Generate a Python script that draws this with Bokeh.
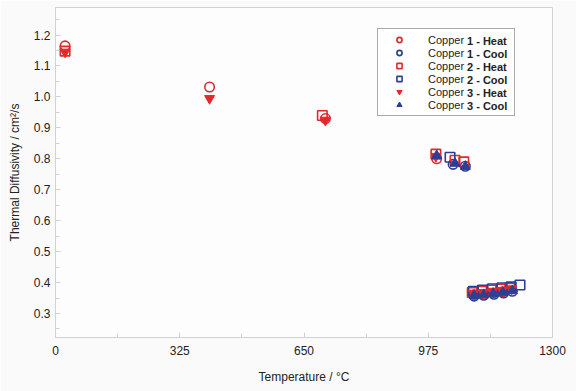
from bokeh.plotting import figure
from bokeh.models import Range1d, FixedTicker, Legend, LegendItem
from bokeh.embed import file_html
from bokeh.resources import INLINE

# ---- data ----
heat1_x = [25, 403, 706, 997, 1095, 1120, 1145, 1170]
heat1_y = [1.165, 1.032, 0.930, 0.800, 0.360, 0.362, 0.366, 0.370]

cool1_x = [1040, 1072, 1095, 1120, 1147, 1172, 1195]
cool1_y = [0.782, 0.776, 0.356, 0.359, 0.362, 0.366, 0.372]

heat2_x = [25, 698, 995, 1045, 1068, 1090, 1115, 1140, 1165, 1188]
heat2_y = [1.148, 0.940, 0.815, 0.795, 0.790, 0.368, 0.372, 0.376, 0.379, 0.382]

cool2_x = [1032, 1093, 1117, 1143, 1168, 1192, 1215]
cool2_y = [0.805, 0.372, 0.376, 0.380, 0.383, 0.386, 0.392]

heat3_x = [25, 403, 706, 995, 1093, 1118, 1143, 1168, 1193]
heat3_y = [1.145, 0.995, 0.925, 0.808, 0.366, 0.368, 0.372, 0.375, 0.380]

cool3_x = [997, 1045, 1072, 1095, 1120, 1145, 1170, 1195]
cool3_y = [0.810, 0.785, 0.775, 0.358, 0.360, 0.364, 0.368, 0.373]

x_ticks = [0, 325, 650, 975, 1300]
x_tick_labels = ["0", "325", "650", "975", "1300"]
y_ticks = [0.3, 0.4, 0.5, 0.6, 0.7, 0.8, 0.9, 1.0, 1.1, 1.2]
y_tick_labels = ["0.3", "0.4", "0.5", "0.6", "0.7", "0.8", "0.9", "1.0", "1.1", "1.2"]

legend_prefix = "Copper"
legend_bold = ["1 - Heat", "1 - Cool", "2 - Heat", "2 - Cool", "3 - Heat", "3 - Cool"]

RED = "#e3282c"
BLUE = "#2d3f92"
GRID = "#d2d2d2"
FONT = "Liberation Sans"
LFS = 11  # legend font size (px)

p = figure(width=576, height=391, output_backend="svg", toolbar_location=None,
           x_range=Range1d(0, 1300), y_range=Range1d(0.2224, 1.2889),
           min_border_left=55, min_border_right=24, min_border_top=7, min_border_bottom=54,
           background_fill_color="#fdfdfd", border_fill_color="#fafafa")
p.grid.visible = False
p.outline_line_color = GRID

x_minor = [162.5, 487.5, 812.5, 1137.5]
y_minor = [0.25 + 0.1 * i for i in range(11)]
xt = FixedTicker(ticks=x_ticks, minor_ticks=x_minor)
yt = FixedTicker(ticks=y_ticks, minor_ticks=y_minor)

def style(ax):
    ax.axis_line_color = GRID
    ax.major_tick_line_color = GRID
    ax.minor_tick_line_color = GRID
    ax.major_tick_in = 5
    ax.major_tick_out = 0
    ax.minor_tick_in = 4
    ax.minor_tick_out = 0
    ax.major_label_text_font = FONT
    ax.major_label_text_font_size = "12px"
    ax.major_label_text_color = "#222222"
    ax.axis_label_text_font = FONT
    ax.axis_label_text_font_size = "12px"
    ax.axis_label_text_font_style = "normal"
    ax.axis_label_text_color = "#222222"

xa = p.xaxis[0]
xa.ticker = xt
xa.major_label_overrides = {t: l for t, l in zip(x_ticks, x_tick_labels)}
xa.axis_label = "Temperature / °C"
style(xa)
xa.major_label_standoff = 8
xa.axis_label_standoff = 12

ya = p.yaxis[0]
ya.ticker = yt
ya.major_label_overrides = {t: l for t, l in zip(y_ticks, y_tick_labels)}
ya.axis_label = "Thermal Diffusivity / cm²/s"
style(ya)
ya.major_label_standoff = 5
ya.axis_label_standoff = 9

rs = []
rs.append(p.scatter(heat1_x, heat1_y, marker="circle", size=9.5, line_color=RED, line_width=1.6, fill_color=None))
rs.append(p.scatter(cool1_x, cool1_y, marker="circle", size=9.5, line_color=BLUE, line_width=1.6, fill_color=None))
rs.append(p.scatter(heat2_x, heat2_y, marker="square", size=9.5, line_color=RED, line_width=1.6, fill_color=None))
rs.append(p.scatter(cool2_x, cool2_y, marker="square", size=9.5, line_color=BLUE, line_width=1.6, fill_color=None))
rs.append(p.scatter(heat3_x, heat3_y, marker="inverted_triangle", size=10, line_color=RED, fill_color=RED))
rs.append(p.scatter(cool3_x, cool3_y, marker="triangle", size=10, line_color=BLUE, fill_color=BLUE))

# legend box: page x 377..513, y 30..116  (frame left 55, frame bottom 337)
LX, LY = 322, 221
GW, STAND, PAD, LW = 34, 12, 4, 82
items = [LegendItem(label=legend_prefix, renderers=[r]) for r in rs]
leg = Legend(items=items, location=(LX, LY), padding=PAD, spacing=0,
             label_height=13, glyph_height=13, glyph_width=GW, label_standoff=STAND,
             label_width=LW, label_text_font=FONT, label_text_font_size=f"{LFS}px",
             label_text_color="#222222",
             border_line_color="#555555", border_line_width=1,
             background_fill_color="white", background_fill_alpha=1)
p.add_layout(leg, "center")

# bold part of each legend entry: a second, see-through legend with invisible glyphs
prefix_w = int(round(3.557 * LFS)) + 1  # width of "Copper " in Liberation Sans
ghost = p.scatter([], [], alpha=0)
items_b = [LegendItem(label=t, renderers=[ghost]) for t in legend_bold]
leg_b = Legend(items=items_b, location=(LX, LY), padding=PAD, spacing=0,
               label_height=13, glyph_height=13, glyph_width=GW,
               label_standoff=STAND + prefix_w, label_width=LW - prefix_w,
               label_text_font=FONT, label_text_font_size=f"{LFS}px",
               label_text_font_style="bold", label_text_color="#222222",
               border_line_color="white", border_line_alpha=0,
               background_fill_alpha=0)
p.add_layout(leg_b, "center")

open("out.html", "w").write(file_html(p, INLINE))
